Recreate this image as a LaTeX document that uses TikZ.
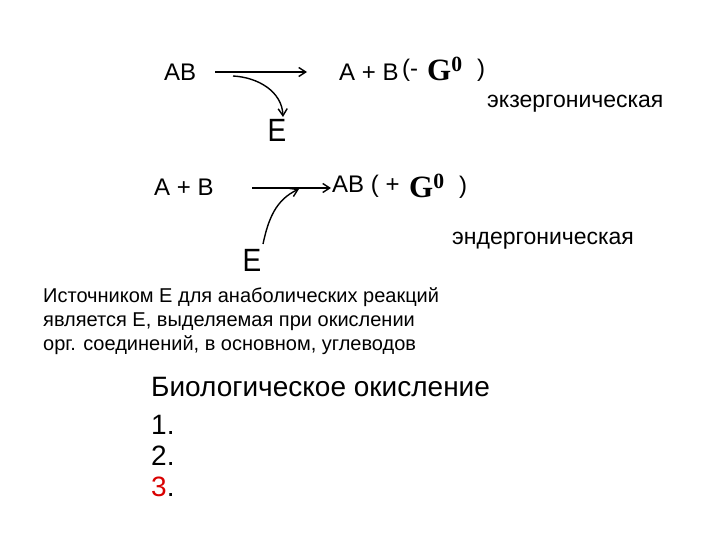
\documentclass[tikz,border=0pt]{standalone}
\usepackage{fontspec}
\setmainfont{Liberation Sans}
\newfontfamily\gfont{Liberation Serif}
\usetikzlibrary{arrows.meta}
\begin{document}
\begin{tikzpicture}[x=1pt,y=1pt,
  txt/.style={anchor=west,inner sep=0pt,font=\fontsize{24}{28}\selectfont},
  ee/.style={anchor=center,inner sep=0pt,yscale=1.15,font=\fontsize{28}{32}\selectfont},
  lbl/.style={anchor=west,inner sep=0pt,font=\fontsize{23}{26}\selectfont},
  par/.style={anchor=north west,inner sep=0pt,align=left,font=\fontsize{20}{24}\selectfont},
  big/.style={anchor=west,inner sep=0pt,font=\fontsize{28}{32}\selectfont},
  gg/.style={anchor=west,inner sep=0pt,font=\gfont\bfseries\fontsize{31}{34}\selectfont},
  arr/.style={-{Straight Barb[length=7pt,width=9pt]},line width=1.4pt}]
\useasboundingbox (0,0) rectangle (720,-540);
% first reaction
\node[txt] (ab1) at (164,-72) {AB};
\node[txt] (apb1) at (339,-72) {A + B};
\node[txt] (lp1) at (402,-70) {(-};
\node[gg] (g1) at (427,-69) {G\textsuperscript{0}};
\node[txt] (rp1) at (477,-70) {)};
\node[lbl] (exo) at (487,-104) {экзергоническая};
\node[ee] (e1) at (277,-130) {E};
\coordinate (s1) at (215,-72);
\coordinate (t1) at (307,-72);
\coordinate (c1) at (233,-76);
\coordinate (d1) at (283,-117);
\draw[arr] (s1) -- (t1);
\draw[arr] (c1) to[out=-3,in=92] (d1);
% second reaction
\node[txt] (apb2) at (154,-187) {A + B};
\node[txt] (ab2) at (332,-186) {AB ( +};
\node[gg] (g2) at (409,-186) {G\textsuperscript{0}};
\node[txt] (rp2) at (459,-187) {)};
\node[lbl] (endo) at (452,-241) {эндергоническая};
\node[ee] (e2) at (252,-260) {E};
\coordinate (s2) at (252,-188);
\coordinate (t2) at (331,-188);
\coordinate (c2) at (263,-244);
\coordinate (d2) at (299,-189);
\draw[arr] (s2) -- (t2);
\draw[arr] (c2) to[out=78,in=205] (d2);
% paragraph
\node[par] (para) at (43,-287) {Источником Е для анаболических реакций\\является Е, выделяемая при окислении\\орг. соединений, в основном, углеводов};
% list
\node[big] (bio) at (151,-387) {Биологическое окисление};
\node[big] (n1) at (151,-425) {1.};
\node[big] (n2) at (151,-456) {2.};
\node[big] (n3) at (151,-487) {\textcolor{red!85!black}{3}.};
\end{tikzpicture}
\end{document}
